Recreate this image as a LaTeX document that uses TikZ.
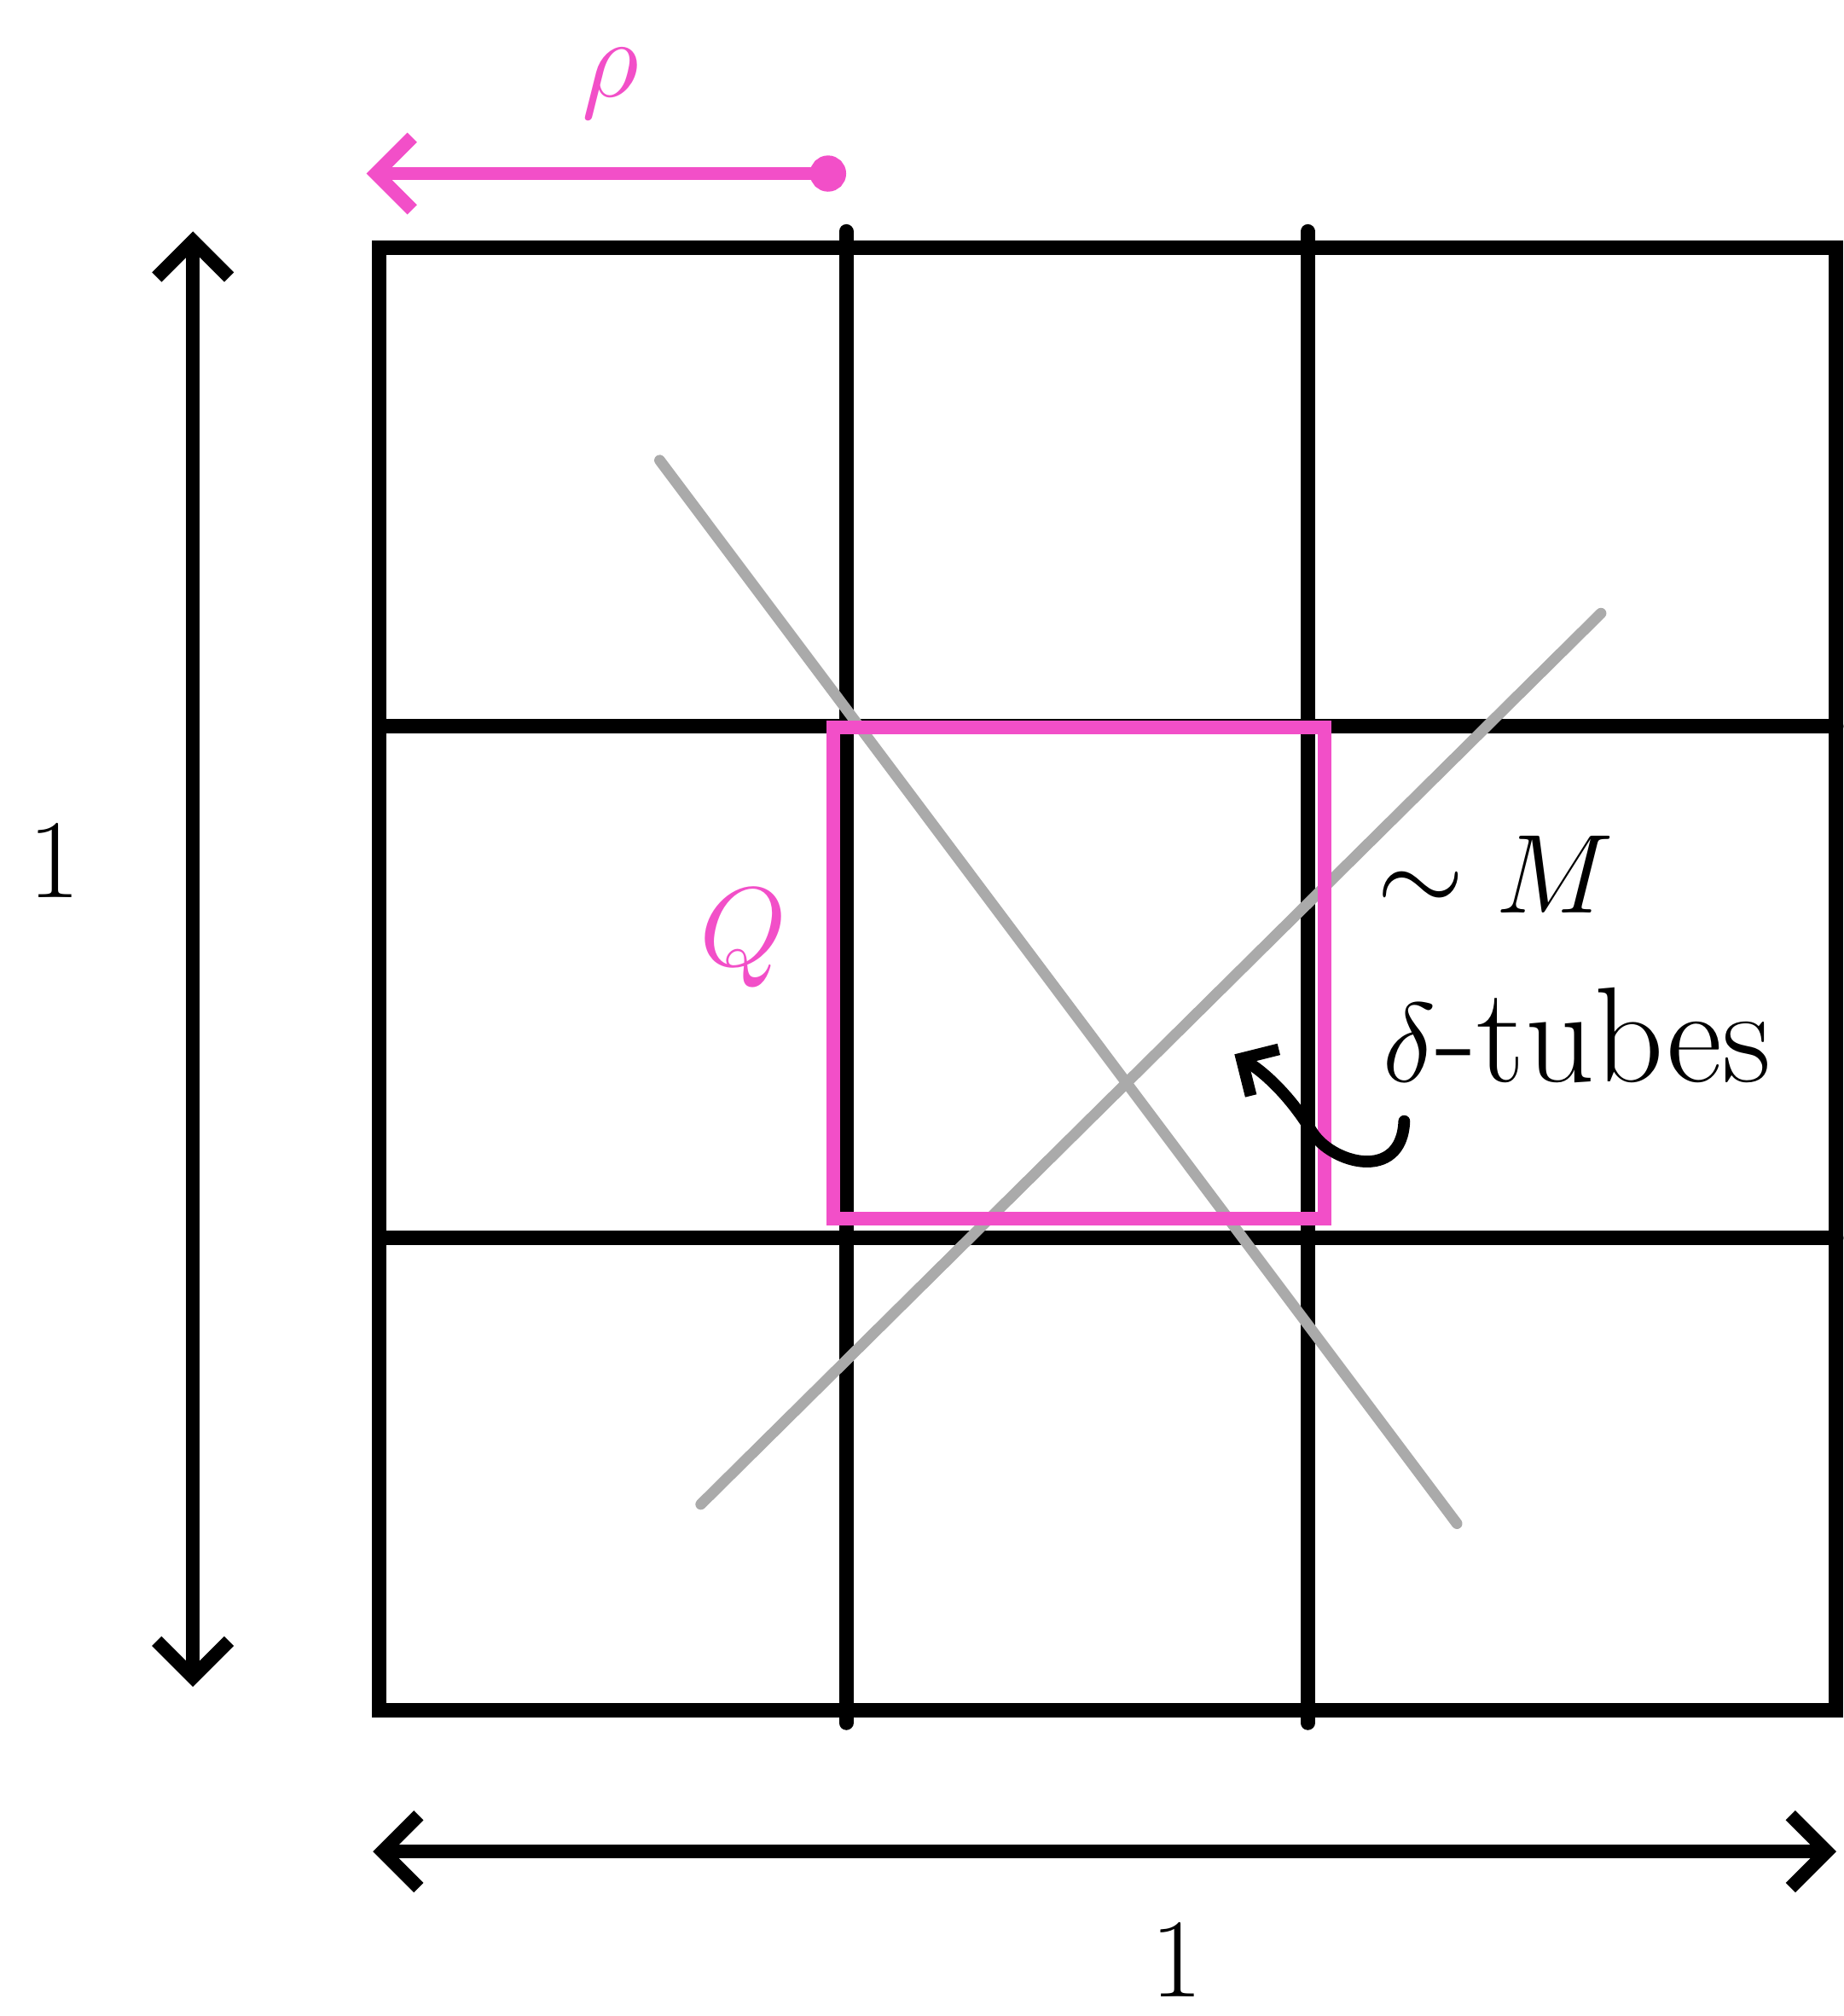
\documentclass[tikz,border=0pt]{standalone}
\usepackage{amsmath,amssymb}
\usepackage{xcolor}
\definecolor{qpink}{HTML}{F24FC8}
\definecolor{tubegray}{HTML}{AAAAAA}
\usetikzlibrary{positioning,arrows.meta}
\tikzset{
    gridline/.style={
        line width=3.2pt,
        black,
        line cap=round,
    },
    tubeline/.style={
        line width=2.4pt,
        tubegray,
        line cap=round,
    },
    cubebox/.style={
        line width=3pt,
        qpink,
    },
    dimarrow/.style={
        {Straight Barb[length=8pt,width=16pt]}-{Straight Barb[length=8pt,width=16pt]},
        line width=3pt,
        line cap=round,
    },
    pinkarrow/.style={
        {Straight Barb[length=8pt,width=16pt]}-{Circle[length=8pt]},
        line width=3pt,
        qpink,
        line cap=round,
    },
    hookarrow/.style={
        -{Straight Barb[length=6pt,width=12pt]},
        line width=2.6pt,
        line cap=round,
    },
    biglabel/.style={
        font=\fontsize{30}{36}\selectfont,
        inner sep=0pt,
    },
}
\begin{document}
\begin{tikzpicture}
    \useasboundingbox (0,0) rectangle (14.34,-15.68);
    % Unit square and its grid
    \draw[gridline] (2.95,-1.93) rectangle (14.28,-13.30);
    \draw[gridline] (6.58,-1.80) -- (6.58,-13.40);
    \draw[gridline] (10.17,-1.80) -- (10.17,-13.40);
    \draw[gridline] (2.95,-5.65) -- (14.28,-5.65);
    \draw[gridline] (2.95,-9.63) -- (14.28,-9.63);

    % Tubes
    \draw[tubeline] (5.13,-3.58) -- (11.33,-11.85);
    \draw[tubeline] (5.45,-11.70) -- (12.45,-4.77);

    % Cube Q
    \draw[cubebox] (6.48,-5.66) rectangle (10.30,-9.48);
    \node[biglabel, text=qpink] (qlabel) at (5.78,-7.30) {$Q$};

    % Side lengths
    \coordinate (sideTop) at (1.50,-1.80);
    \coordinate (sideBot) at (1.50,-13.12);
    \draw[dimarrow] (sideTop) -- (sideBot);
    \node[biglabel] (leftone) at (0.42,-6.70) {$1$};

    \coordinate (baseL) at (2.90,-14.40);
    \coordinate (baseR) at (14.28,-14.40);
    \draw[dimarrow] (baseL) -- (baseR);
    \node[biglabel] (bottomone) at (9.15,-15.25) {$1$};

    \coordinate (rhoL) at (2.85,-1.35);
    \coordinate (rhoR) at (6.58,-1.35);
    \draw[pinkarrow] (rhoL) -- (rhoR);
    \node[biglabel, text=qpink, font=\fontsize{36}{40}\selectfont] (rholabel) at (4.75,-0.65) {$\rho$};

    % Tube count
    \node[biglabel, anchor=west] (count) at (10.70,-6.80) {$\sim M$};
    \node[biglabel, anchor=west] (tubes) at (10.75,-8.05) {$\delta$-tubes};
    \coordinate (hookend) at (9.60,-8.20);
    \draw[hookarrow] (10.92,-8.72) .. controls (10.90,-9.20) and (10.35,-9.05) .. (10.20,-8.80)
        .. controls (10.05,-8.55) and (9.85,-8.35) .. (hookend);
\end{tikzpicture}
\end{document}
